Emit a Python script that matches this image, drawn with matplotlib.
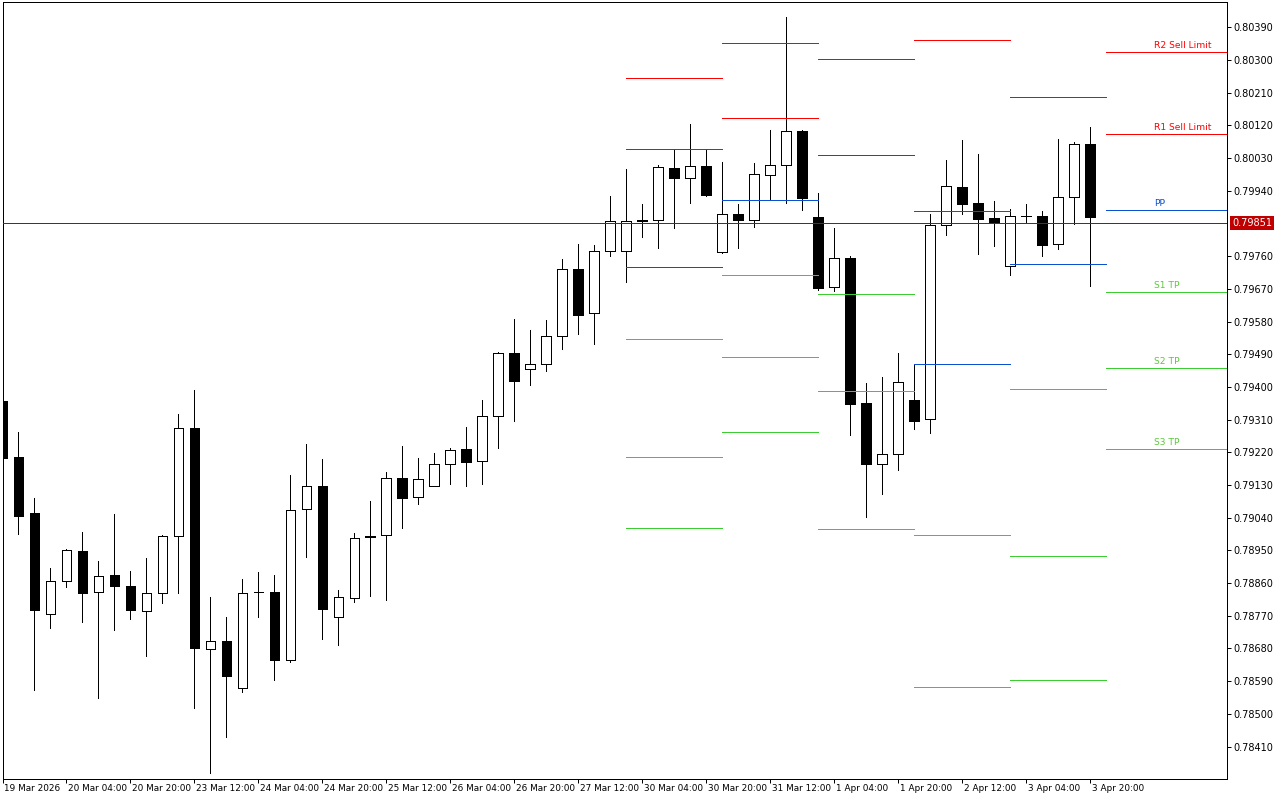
import numpy as np
import matplotlib
matplotlib.use("Agg")
import matplotlib.pyplot as plt
from matplotlib.transforms import ScaledTranslation, blended_transform_factory

# ---------------- data (H4 candles, 19 Mar 12:00 .. 3 Apr 20:00) ----------------
opens = [0.79361, 0.79207, 0.79053, 0.78774, 0.78865, 0.78949, 0.78835, 0.78882, 0.78851, 0.78783,
         0.78832, 0.78989, 0.79286, 0.78678, 0.78700, 0.78571, 0.78835, 0.78836, 0.78647, 0.79063,
         0.79127, 0.78766, 0.78818, 0.78989, 0.78992, 0.79149, 0.79098, 0.79128, 0.79187, 0.79229,
         0.79196, 0.79319, 0.79493, 0.79449, 0.79462, 0.79540, 0.79724, 0.79603, 0.79773, 0.79773,
         0.79859, 0.79859, 0.80002, 0.79974, 0.80007, 0.79771, 0.79875, 0.79861, 0.79983, 0.80010,
         0.80104, 0.79867, 0.79674, 0.79754, 0.79356, 0.79187, 0.79215, 0.79363, 0.79311, 0.79845,
         0.79950, 0.79906, 0.79864, 0.79732, 0.79870, 0.79870, 0.79793, 0.79922, 0.80068]
highs = [0.79368, 0.79276, 0.79094, 0.78902, 0.78954, 0.79001, 0.78921, 0.79050, 0.78893, 0.78929,
         0.78993, 0.79326, 0.79392, 0.78822, 0.78767, 0.78872, 0.78891, 0.78882, 0.79158, 0.79243,
         0.79202, 0.78841, 0.78998, 0.79086, 0.79166, 0.79238, 0.79204, 0.79218, 0.79231, 0.79290,
         0.79364, 0.79496, 0.79587, 0.79557, 0.79584, 0.79752, 0.79794, 0.79791, 0.79926, 0.80000,
         0.79904, 0.80010, 0.80054, 0.80124, 0.80054, 0.80019, 0.79904, 0.80016, 0.80107, 0.80418,
         0.80107, 0.79934, 0.79838, 0.79761, 0.79411, 0.79428, 0.79494, 0.79462, 0.79876, 0.80025,
         0.80080, 0.80041, 0.79912, 0.79890, 0.79904, 0.79884, 0.80083, 0.80074, 0.80116]
lows = [0.79200, 0.78996, 0.78567, 0.78735, 0.78848, 0.78754, 0.78545, 0.78732, 0.78760, 0.78658,
        0.78804, 0.78834, 0.78515, 0.78336, 0.78435, 0.78561, 0.78768, 0.78592, 0.78644, 0.78933,
        0.78705, 0.78690, 0.78809, 0.78825, 0.78814, 0.79013, 0.79079, 0.79126, 0.79134, 0.79126,
        0.79134, 0.79233, 0.79307, 0.79404, 0.79445, 0.79505, 0.79547, 0.79519, 0.79761, 0.79690,
        0.79814, 0.79783, 0.79838, 0.79907, 0.79926, 0.79769, 0.79783, 0.79841, 0.79915, 0.79907,
        0.79888, 0.79668, 0.79665, 0.79268, 0.79043, 0.79106, 0.79170, 0.79285, 0.79274, 0.79819,
        0.79877, 0.79767, 0.79789, 0.79709, 0.79855, 0.79761, 0.79781, 0.79849, 0.79677]
closes = [0.79205, 0.79046, 0.78787, 0.78865, 0.78951, 0.78834, 0.78879, 0.78853, 0.78787, 0.78832,
          0.78990, 0.79286, 0.78680, 0.78700, 0.78603, 0.78832, 0.78836, 0.78647, 0.79061, 0.79127,
          0.78790, 0.78821, 0.78983, 0.78987, 0.79149, 0.79095, 0.79146, 0.79187, 0.79226, 0.79194,
          0.79319, 0.79493, 0.79417, 0.79462, 0.79540, 0.79724, 0.79599, 0.79773, 0.79856, 0.79856,
          0.79856, 0.80005, 0.79976, 0.80007, 0.79929, 0.79875, 0.79861, 0.79985, 0.80010, 0.80104,
          0.79921, 0.79673, 0.79754, 0.79354, 0.79189, 0.79215, 0.79413, 0.79307, 0.79845, 0.79952,
          0.79905, 0.79863, 0.79855, 0.79870, 0.79870, 0.79792, 0.79922, 0.80068, 0.79869]

x_tick_labels = ["19 Mar 2026", "20 Mar 04:00", "20 Mar 20:00", "23 Mar 12:00", "24 Mar 04:00",
                 "24 Mar 20:00", "25 Mar 12:00", "26 Mar 04:00", "26 Mar 20:00", "27 Mar 12:00",
                 "30 Mar 04:00", "30 Mar 20:00", "31 Mar 12:00", "1 Apr 04:00", "1 Apr 20:00",
                 "2 Apr 12:00", "3 Apr 04:00", "3 Apr 20:00"]
y_tick_labels = ["0.80390", "0.80300", "0.80210", "0.80120", "0.80030", "0.79940", "0.79760",
                 "0.79670", "0.79580", "0.79490", "0.79400", "0.79310", "0.79220", "0.79130",
                 "0.79040", "0.78950", "0.78860", "0.78770", "0.78680", "0.78590", "0.78500",
                 "0.78410"]

# daily pivot levels: days 30 Mar, 31 Mar, 1 Apr, 2 Apr, 3 Apr, next session
day_start = [39, 45, 51, 57, 63, 69]
R2 = [0.80250, 0.80346, np.nan, 0.80354, np.nan, 0.80321]
R1 = [0.80054, 0.80140, 0.80302, 0.79884, 0.80198, 0.80096]
PP = [0.79729, 0.79914, 0.80038, 0.79462, 0.79738, 0.79886]
S1 = [0.79531, 0.79707, 0.79655, 0.78992, 0.79394, 0.79661]
S2 = [0.79207, 0.79482, 0.79388, 0.78573, 0.78934, 0.79451]
S3 = [0.79011, 0.79275, 0.79008, np.nan, 0.78593, 0.79229]
level_names = ["R2 Sell Limit", "R1 Sell Limit", "PP", "S1 TP", "S2 TP", "S3 TP"]
last_price = 0.79851

# ---------------- styling ----------------
RED = "#FF0000"
BLUE = "#0A50D2"
GREEN = "#3CCD32"
PRICE_RED = "#C00000"
PX = 0.72  # one pixel in points at 100 dpi

fig = plt.figure(figsize=(12.8, 8), dpi=100)
fig.patch.set_facecolor("white")
ax = fig.add_axes([2.5 / 1280, 1 - 778.5 / 800, (1227 - 2.5) / 1280, (778.5 - 2.3) / 800])
ax.set_facecolor("white")

o = np.array(opens); h = np.array(highs); l = np.array(lows); c = np.array(closes)
x = np.arange(len(o))
up = c >= o

# wicks
ax.vlines(x, l, h, color="black", linewidth=PX, antialiased=False, zorder=2)
# bodies
bottoms = np.minimum(o, c)
heights = np.abs(c - o)
ax.bar(x[up], heights[up], bottom=bottoms[up], width=0.62, facecolor="white",
       edgecolor="black", linewidth=PX, antialiased=False, zorder=3)
ax.bar(x[~up], heights[~up], bottom=bottoms[~up], width=0.62, facecolor="black",
       edgecolor="black", linewidth=PX, antialiased=False, zorder=3)

# price line
ax.axhline(last_price, color=PRICE_RED, linewidth=PX, antialiased=False, zorder=4)

# pivot segments
levels = [R2, R1, PP, S1, S2, S3]
colors = [RED, RED, BLUE, GREEN, GREEN, GREEN]
x_end = 80
for vals, col in zip(levels, colors):
    for k, v in enumerate(vals):
        if np.isnan(v):
            continue
        xs = day_start[k]
        xe = day_start[k + 1] if k + 1 < len(day_start) else x_end
        ax.hlines(v, xs, xe, color=col, linewidth=PX, antialiased=False, zorder=5)

# labels on the current-session lines
label_x = day_start[-1] + 3
lab_off = ScaledTranslation(0, 2 / 100, fig.dpi_scale_trans)
text_colors = [RED, RED, BLUE, "#5CC83A", "#5CC83A", "#5CC83A"]
for vals, name, col in zip(levels, level_names, text_colors):
    ax.text(label_x, vals[-1], name, color=col, fontsize=6.6, ha="left", va="bottom",
            transform=ax.transData + lab_off, zorder=6, family="DejaVu Sans")

# axes limits
ax.set_xlim(0.01, 76.54)
ax.set_ylim(0.78322, 0.80459)

# x ticks
xt = np.arange(0, len(o), 4)
ax.set_xticks(xt)
ax.set_xticklabels(x_tick_labels, fontsize=6.4)
ax.tick_params(axis="x", direction="out", length=3, width=PX, pad=1.0, colors="black")
shift = ScaledTranslation(1.5 / 100, 0, fig.dpi_scale_trans)
for lab in ax.get_xticklabels():
    lab.set_horizontalalignment("left")
    lab.set_transform(lab.get_transform() + shift)

# y ticks on right
ax.yaxis.tick_right()
ax.set_yticks([float(s) for s in y_tick_labels])
ax.set_yticklabels(y_tick_labels, fontsize=7)
ax.tick_params(axis="y", direction="out", length=3, width=PX, pad=1.5, colors="black")

for sp in ax.spines.values():
    sp.set_color("black")
    sp.set_linewidth(PX)

# current price tag
trans = blended_transform_factory(ax.transAxes, ax.transData)
ax.text(1.0, last_price, f"{last_price:.5f}", color="white", fontsize=7, ha="left", va="center",
        transform=trans + ScaledTranslation(5 / 100, 0, fig.dpi_scale_trans),
        bbox=dict(boxstyle="square,pad=0.2", fc=PRICE_RED, ec="none"), clip_on=False, zorder=10)

fig.savefig("out.png", dpi=100, facecolor="white")
